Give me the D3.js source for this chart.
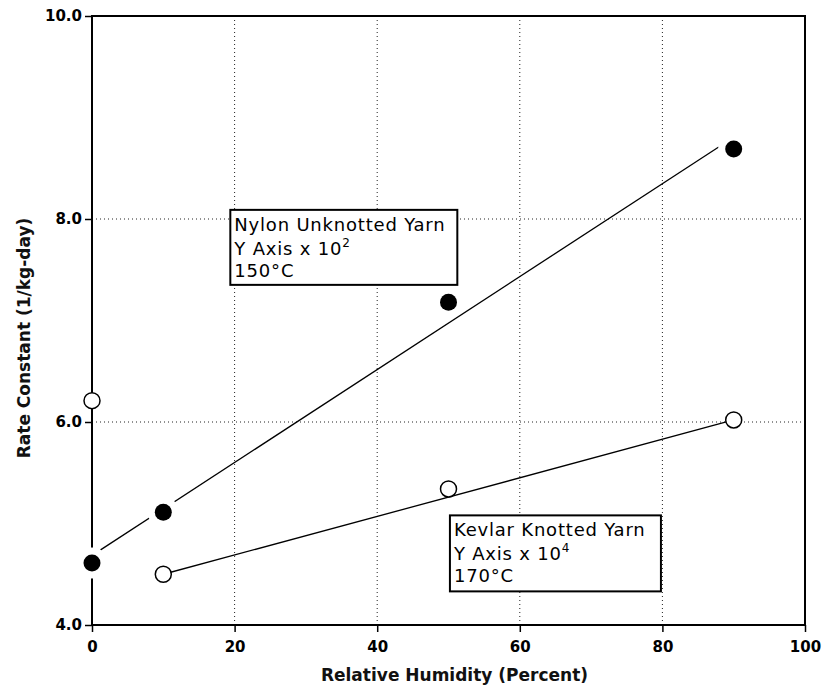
<!DOCTYPE html>
<html lang="en">
<head>
  <meta charset="utf-8">
  <title>Rate Constant vs Relative Humidity</title>
  <script src="https://d3js.org/d3.v7.min.js"></script>
  <style>
  body { margin: 0; background: #fff; }
  .tick-label { font-family: "DejaVu Sans", sans-serif; font-weight: bold; font-size: 15px; fill: #000; }
  .axis-title { font-family: "DejaVu Sans", sans-serif; font-weight: bold; font-size: 17px; fill: #111; }
  .note { font-family: "DejaVu Sans", sans-serif; font-size: 18px; letter-spacing: 0.8px; fill: #000; }
  .grid { stroke: #222; stroke-width: 1; stroke-dasharray: 1,3; }
  </style>
</head>
<body>
<script>
var width = 822;
var height = 686;

// data (y values already scaled by the factor given in each label box)
var humidity = [0, 10, 50, 90];
var nylon = [4.61, 5.11, 7.18, 8.69];      // filled circles
var kevlar = [6.21, 4.50, 5.34, 6.02];     // open circles
var nylonFit = [[1.2, 4.74], [87.9, 8.71]];
var kevlarFit = [[10, 4.50], [90, 6.02]];
var xTicks = [0, 20, 40, 60, 80, 100];
var yTicks = [4, 6, 8, 10];
var xGrid = [20, 40, 60, 80];
var yGrid = [6, 8];

var margin = {top: 16, right: 17, bottom: 61, left: 92};

var svg = d3.select("body")
  .append("svg")
  .attr("width", width)
  .attr("height", height);

var x = d3.scaleLinear().domain([0, 100]).range([margin.left, width - margin.right]);
var y = d3.scaleLinear().domain([4, 10]).range([height - margin.bottom, margin.top]);

// grid
svg.append("g").selectAll("line.gx")
  .data(xGrid)
  .enter().append("line")
    .attr("class", "grid")
    .attr("x1", d => x(d)).attr("x2", d => x(d))
    .attr("y1", y(4)).attr("y2", y(10));
svg.append("g").selectAll("line.gy")
  .data(yGrid)
  .enter().append("line")
    .attr("class", "grid")
    .attr("x1", x(0)).attr("x2", x(100))
    .attr("y1", d => y(d)).attr("y2", d => y(d));

// axes
var xAxis = svg.append("g")
  .attr("transform", "translate(0," + y(4) + ")")
  .call(d3.axisBottom(x).tickValues(xTicks).tickSize(7).tickPadding(9).tickFormat(d3.format("d")));
var yAxis = svg.append("g")
  .attr("transform", "translate(" + x(0) + ",0)")
  .call(d3.axisLeft(y).tickValues(yTicks).tickSize(7).tickPadding(3).tickFormat(d3.format(".1f")));
[xAxis, yAxis].forEach(function(a) {
  a.select(".domain").remove();
  a.selectAll(".tick line").attr("stroke", "#000").attr("stroke-width", 1.5);
  a.selectAll(".tick text").attr("class", "tick-label").attr("font-size", null).attr("font-family", null);
});

// frame
svg.append("rect")
  .attr("x", x(0)).attr("y", y(10))
  .attr("width", x(100) - x(0)).attr("height", y(4) - y(10))
  .attr("fill", "none").attr("stroke", "#000").attr("stroke-width", 2);

// fit lines
var line = d3.line().x(d => x(d[0])).y(d => y(d[1]));
svg.append("path").attr("d", line(nylonFit)).attr("fill", "none").attr("stroke", "#000").attr("stroke-width", 1.3);
svg.append("path").attr("d", line(kevlarFit)).attr("fill", "none").attr("stroke", "#000").attr("stroke-width", 1.3);

// white halos round the filled markers
svg.append("g").selectAll("circle")
  .data(humidity)
  .enter().append("circle")
    .attr("cx", d => x(d))
    .attr("cy", (d, i) => y(nylon[i]))
    .attr("r", 15.5)
    .attr("fill", "#fff");

svg.append("g").selectAll("circle")
  .data(humidity)
  .enter().append("circle")
    .attr("cx", d => x(d))
    .attr("cy", (d, i) => y(nylon[i]))
    .attr("r", 8.5)
    .attr("fill", "#000");

svg.append("g").selectAll("circle")
  .data(humidity)
  .enter().append("circle")
    .attr("cx", d => x(d))
    .attr("cy", (d, i) => y(kevlar[i]))
    .attr("r", 8)
    .attr("fill", "#fff")
    .attr("stroke", "#000")
    .attr("stroke-width", 1.5);

// label boxes
function note(x0, y0, w, h, title, power, temp) {
  var g = svg.append("g").attr("transform", "translate(" + x(x0) + "," + y(y0) + ")");
  g.append("rect").attr("width", w).attr("height", h)
    .attr("fill", "#fff").attr("stroke", "#000").attr("stroke-width", 2);
  g.append("text").attr("class", "note").attr("x", 4).attr("y", 21).text(title);
  var t = g.append("text").attr("class", "note").attr("x", 4).attr("y", 45).text("Y Axis x 10");
  t.append("tspan").attr("dy", -8).attr("font-size", 12).attr("letter-spacing", 0).text(power);
  g.append("text").attr("class", "note").attr("x", 4).attr("y", 67).text(temp);
}
note(19.4, 8.09, 227, 75, "Nylon Unknotted Yarn", "2", "150\u00b0C");
note(50.2, 5.08, 211, 76, "Kevlar Knotted Yarn", "4", "170\u00b0C");

// axis titles
svg.append("text")
  .attr("class", "axis-title")
  .attr("text-anchor", "middle")
  .attr("x", (x(0) + x(100)) / 2 + 6)
  .attr("y", 681)
  .text("Relative Humidity (Percent)");
svg.append("text")
  .attr("class", "axis-title")
  .attr("text-anchor", "middle")
  .attr("transform", "translate(30," + 338 + ") rotate(-90)")
  .text("Rate Constant (1/kg-day)");
</script>
</body>
</html>
